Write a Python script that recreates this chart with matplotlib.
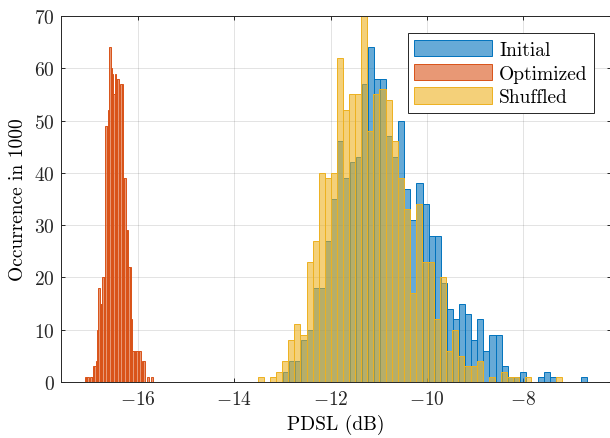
import numpy as np
import matplotlib
matplotlib.use('Agg')
import matplotlib.pyplot as plt

plt.rcParams['font.family'] = ['cmr10', 'DejaVu Serif']
plt.rcParams['mathtext.fontset'] = 'cm'
plt.rcParams['axes.formatter.use_mathtext'] = True
plt.rcParams['axes.unicode_minus'] = True

# histogram counts (50 bins each)
initial = [2, 4, 4, 8, 10, 18, 18, 27, 35, 46, 39, 42, 43, 57, 64, 58, 58, 47, 43, 50,
           37, 31, 38, 34, 28, 28, 19, 14, 12, 15, 13, 8, 12, 6, 9, 9, 3, 1, 1, 2,
           0, 0, 1, 2, 1, 0, 0, 0, 0, 1]
optimized = [1, 1, 1, 0, 1, 1, 3, 3, 4, 10, 18, 15, 15, 20, 20, 49, 49, 52, 64, 60,
             59, 55, 59, 58, 58, 42, 57, 57, 39, 39, 29, 29, 22, 22, 12, 6, 6, 6, 6, 6,
             6, 2, 4, 4, 0, 0, 1, 0, 0, 1]
shuffled = [1, 0, 1, 2, 4, 8, 11, 9, 23, 27, 40, 39, 40, 62, 52, 55, 55, 70, 48, 55,
            56, 54, 46, 39, 33, 17, 34, 23, 23, 12, 20, 6, 10, 5, 3, 3, 4, 0, 1, 0,
            2, 1, 1, 0, 1, 0, 0, 0, 0, 1]

# bin limits (dB)
initial_lim = [-12.998, -6.678]
optimized_lim = [-17.11, -15.696]
shuffled_lim = [-13.511, -7.199]

labels = ['Initial', 'Optimized', 'Shuffled']
colors = [(0, 0.447, 0.741), (0.85, 0.325, 0.098), (0.929, 0.694, 0.125)]

fig = plt.figure(figsize=(6.1, 4.39), dpi=100)
ax = fig.add_axes([60.7 / 610, 56 / 439, 550 / 610, 366 / 439])

for counts, lim, lab, c in zip([initial, optimized, shuffled],
                               [initial_lim, optimized_lim, shuffled_lim],
                               labels, colors):
    edges = np.linspace(lim[0], lim[1], len(counts) + 1)
    ax.bar(edges[:-1], counts, width=np.diff(edges), align='edge',
           facecolor=c + (0.6,), edgecolor=c, linewidth=0.7, label=lab, zorder=2)

ax.set_xlim(-17.61, -6.18)
ax.set_ylim(0, 70)
ax.set_xticks([-16, -14, -12, -10, -8])
ax.set_yticks(np.arange(0, 71, 10))

ax.grid(True, color='#262626', alpha=0.15, linewidth=0.6, zorder=0)
ax.set_axisbelow(True)
for s in ax.spines.values():
    s.set_color('#262626')
    s.set_linewidth(0.7)
ax.tick_params(direction='in', length=3, width=0.7, colors='#262626',
               labelsize=14, top=True, right=True, pad=4)
ax.tick_params(axis='x', pad=6)

ax.set_xlabel('PDSL (dB)', fontsize=14)
ax.set_ylabel('Occurrence in 1000', fontsize=14)
ax.xaxis.set_label_coords(0.5, -0.088)
ax.yaxis.set_label_coords(-0.062, 0.5)

leg = ax.legend(loc='upper right', bbox_to_anchor=(594.3 / 610, 1 - 34.3 / 439),
                bbox_transform=fig.transFigure, borderaxespad=0, fontsize=14,
                fancybox=False, framealpha=1, edgecolor='#262626',
                handlelength=4.0, handleheight=0.9, labelspacing=0.25,
                handletextpad=0.35, borderpad=0.35)
leg.get_frame().set_linewidth(0.7)

fig.savefig('out.png', dpi=100)
